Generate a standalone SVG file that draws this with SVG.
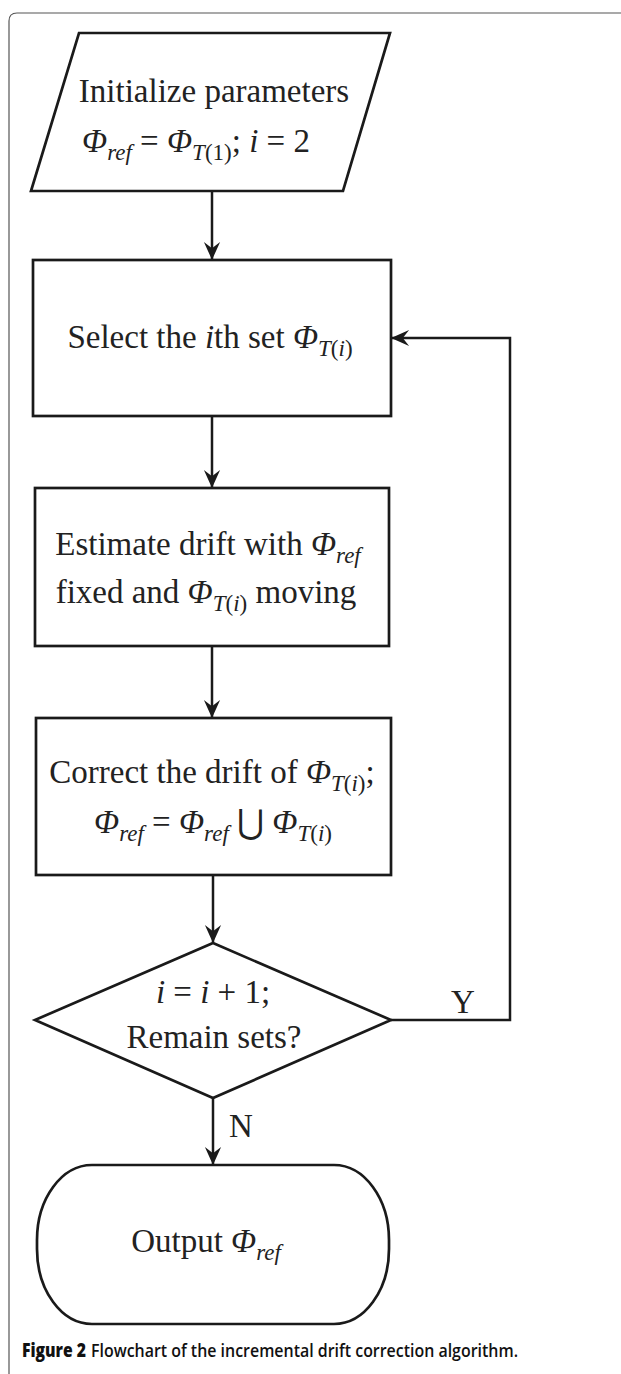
<svg xmlns="http://www.w3.org/2000/svg" width="621" height="1374" viewBox="0 0 621 1374">
<style>
.shape{fill:#fff;stroke:#1a1a1a;stroke-width:2.7}
.conn{fill:none;stroke:#1a1a1a;stroke-width:2.5}
.t{font-family:"Liberation Serif","DejaVu Serif",serif;font-size:33px;fill:#222}
.i{font-style:italic}
.s{font-size:23px;font-style:italic}
.sn{font-size:23px}
.cap{font-family:"Open Sans","Liberation Sans",sans-serif;font-size:18.5px;fill:#111}
</style>
<defs>
<marker id="ah" viewBox="0 0 20 20" refX="19" refY="10" markerWidth="20" markerHeight="18" markerUnits="userSpaceOnUse" orient="auto">
<path d="M0,1 L20,10 L0,19 L7,10 Z" fill="#1a1a1a"/>
</marker>
</defs>
<rect width="621" height="1374" fill="#fff"/>
<path d="M9,1374 V21 Q9,13 17,13 H621" fill="none" stroke="#555" stroke-width="1.2"/>

<g id="connectors">
<line class="conn" x1="212" y1="191" x2="212" y2="259" marker-end="url(#ah)"/>
<line class="conn" x1="212" y1="416" x2="212" y2="487" marker-end="url(#ah)"/>
<line class="conn" x1="212" y1="646" x2="212" y2="717" marker-end="url(#ah)"/>
<line class="conn" x1="213" y1="875" x2="213" y2="942" marker-end="url(#ah)"/>
<line class="conn" x1="213" y1="1098" x2="213" y2="1164" marker-end="url(#ah)"/>
<path class="conn" d="M391,1020 H510 V338 H392" marker-end="url(#ah)"/>
<text class="t" x="451" y="1013" font-size="31">Y</text>
<text class="t" x="229" y="1137" font-size="31">N</text>
</g>

<g id="init">
<polygon class="shape" points="79,33 390,33 343,191 31,191"/>
<text class="t" x="214" y="102" text-anchor="middle">Initialize parameters</text>
<text class="t" x="196" y="152" text-anchor="middle"><tspan class="i">Φ</tspan><tspan class="s" dy="8">ref</tspan><tspan dy="-8"> = </tspan><tspan class="i">Φ</tspan><tspan class="s" dy="8">T</tspan><tspan class="sn">(1)</tspan><tspan dy="-8">; </tspan><tspan class="i">i</tspan><tspan> = 2</tspan></text>
</g>

<g id="select">
<rect class="shape" x="33" y="260" width="358" height="156"/>
<text class="t" x="210" y="348" text-anchor="middle"><tspan>Select the </tspan><tspan class="i">i</tspan><tspan>th set </tspan><tspan class="i">Φ</tspan><tspan class="s" dy="8">T</tspan><tspan class="sn">(</tspan><tspan class="s">i</tspan><tspan class="sn">)</tspan></text>
</g>

<g id="estimate">
<rect class="shape" x="35" y="488" width="354" height="158"/>
<text class="t" x="208" y="555" text-anchor="middle"><tspan>Estimate drift with </tspan><tspan class="i">Φ</tspan><tspan class="s" dy="8">ref</tspan></text>
<text class="t" x="206" y="603" text-anchor="middle"><tspan>fixed and </tspan><tspan class="i">Φ</tspan><tspan class="s" dy="8">T</tspan><tspan class="sn">(</tspan><tspan class="s">i</tspan><tspan class="sn">)</tspan><tspan dy="-8"> moving</tspan></text>
</g>

<g id="correct">
<rect class="shape" x="36" y="718" width="355" height="157"/>
<text class="t" x="212" y="783" text-anchor="middle"><tspan>Correct the drift of </tspan><tspan class="i">Φ</tspan><tspan class="s" dy="8">T</tspan><tspan class="sn">(</tspan><tspan class="s">i</tspan><tspan class="sn">)</tspan><tspan dy="-8">;</tspan></text>
<text class="t" x="213" y="833" text-anchor="middle"><tspan class="i">Φ</tspan><tspan class="s" dy="8">ref</tspan><tspan dy="-8"> = </tspan><tspan class="i">Φ</tspan><tspan class="s" dy="8">ref</tspan><tspan dy="-8"> ⋃ </tspan><tspan class="i">Φ</tspan><tspan class="s" dy="8">T</tspan><tspan class="sn">(</tspan><tspan class="s">i</tspan><tspan class="sn">)</tspan></text>
</g>

<g id="decision">
<polygon class="shape" points="213,943 391,1020 213,1098 35,1020"/>
<text class="t" x="213" y="1003" text-anchor="middle"><tspan class="i">i</tspan><tspan> = </tspan><tspan class="i">i</tspan><tspan> + 1;</tspan></text>
<text class="t" x="214" y="1048" text-anchor="middle">Remain sets?</text>
</g>

<g id="output">
<rect class="shape" x="37" y="1165" width="352" height="159" rx="55" ry="75"/>
<text class="t" x="206" y="1252" text-anchor="middle"><tspan>Output </tspan><tspan class="i">Φ</tspan><tspan class="s" dy="8">ref</tspan></text>
</g>

<g id="caption">
<text class="cap" x="22" y="1357" font-weight="800" textLength="64" lengthAdjust="spacingAndGlyphs">Figure 2</text>
<text class="cap" x="91" y="1357" font-weight="600" textLength="427" lengthAdjust="spacingAndGlyphs">Flowchart of the incremental drift correction algorithm.</text>
</g>
</svg>
